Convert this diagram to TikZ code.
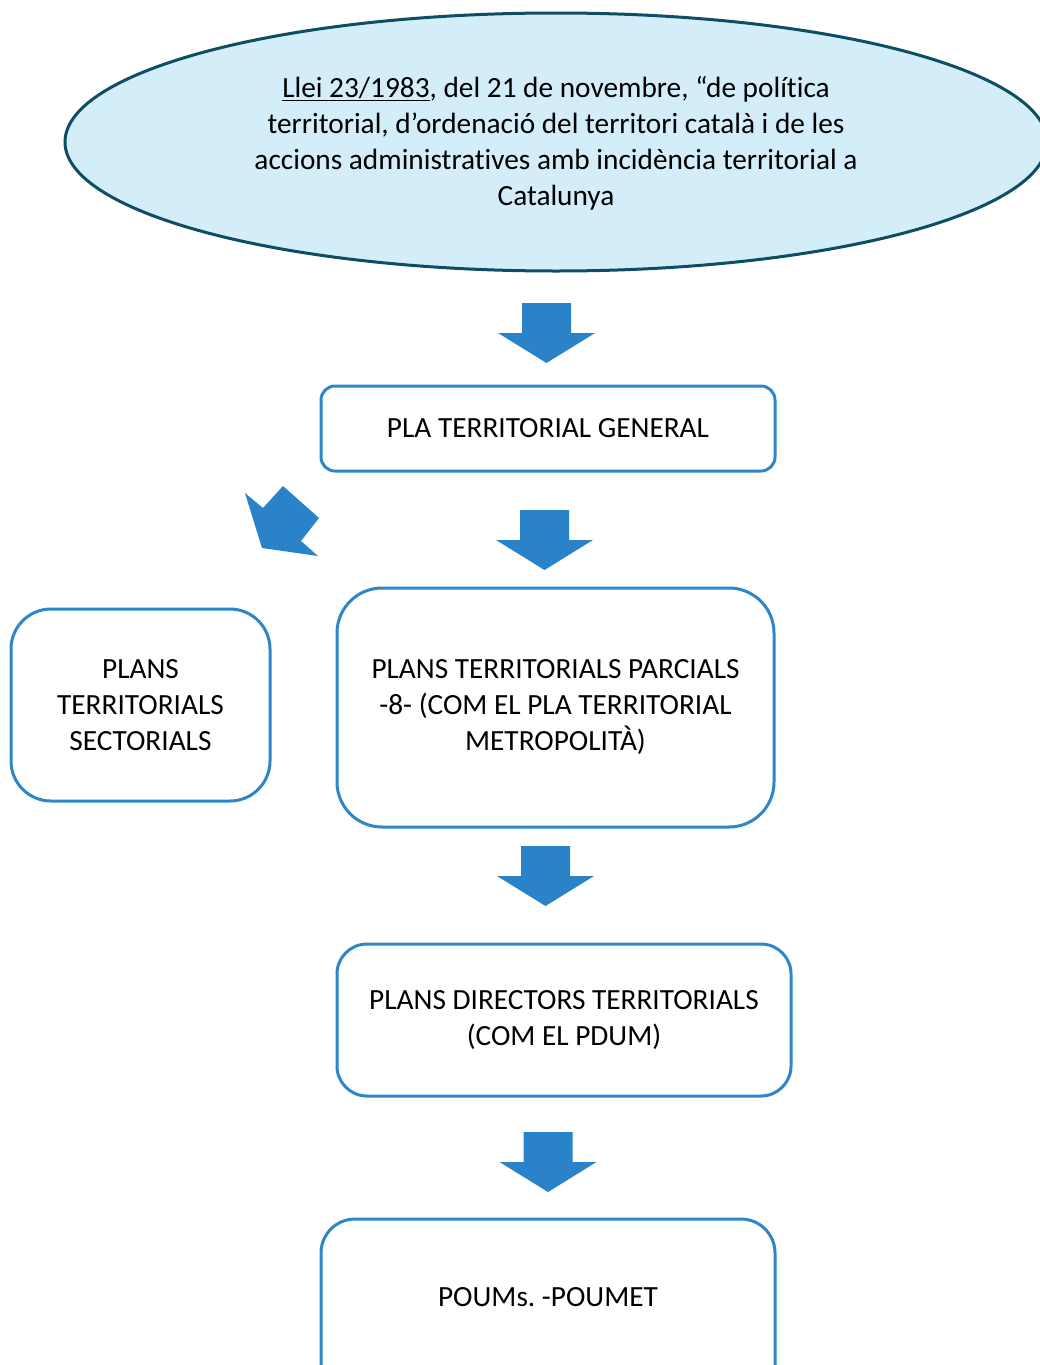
\documentclass[tikz,border=0pt]{standalone}
\usepackage{fontspec}
\setmainfont[Ligatures=NoCommon]{Carlito}
\definecolor{boxblue}{RGB}{46,134,200}
\definecolor{arrblue}{RGB}{42,131,200}
\definecolor{ellfill}{RGB}{212,238,249}
\definecolor{elldraw}{RGB}{14,77,100}
\tikzset{
  flowbox/.style={draw=boxblue, line width=3pt, fill=white, align=center, inner sep=0pt},
  downarr/.pic={\fill[arrblue] (-24.5,0) -- (24.5,0) -- (24.5,30) -- (48.5,30) -- (0,60) -- (-48.5,30) -- (-24.5,30) -- cycle;}
}
\begin{document}
\frenchspacing
\begin{tikzpicture}[x=1pt,y=-1pt, font=\fontsize{29.3}{36}\selectfont]
\useasboundingbox (0,0) rectangle (1040,1365);
\clip (0,0) rectangle (1040,1365);
% ellipse
\draw[fill=ellfill, draw=elldraw, line width=3pt] (556,142) ellipse [x radius=491, y radius=129];
\node[align=center, inner sep=0pt] (law) at (556,143) {\underline{Llei 23/1983}, del 21 de novembre, “de política\\territorial, d’ordenació del territori català i de les\\accions administratives amb incidència territorial a\\Catalunya};
% boxes
\node[flowbox, rounded corners=14pt, minimum width=454pt, minimum height=85pt] (ptg) at (548,428.5) {PLA TERRITORIAL GENERAL};
\node[flowbox, rounded corners=40pt, minimum width=259pt, minimum height=192pt] (pts) at (140.5,705) {PLANS\\TERRITORIALS\\SECTORIALS};
\node[flowbox, rounded corners=45pt, minimum width=437pt, minimum height=239pt] (ptp) at (555.5,707.5) {PLANS TERRITORIALS PARCIALS\\-8- (COM EL PLA TERRITORIAL\\METROPOLITÀ)};
\node[flowbox, rounded corners=30pt, minimum width=454pt, minimum height=152pt] (pdt) at (564,1020) {PLANS DIRECTORS TERRITORIALS\\(COM EL PDUM)};
\node[flowbox, rounded corners=34pt, minimum width=454pt, minimum height=200pt] (poum) at (548,1319) {};
\node (poumtxt) at (548,1297) {POUMs. -POUMET};
% arrows
\pic at (546.5,303) {downarr};
\pic at (544.5,510) {downarr};
\pic at (545.5,846) {downarr};
\pic at (548,1132) {downarr};
\fill[arrblue] (245,493) -- (263,508) -- (283,486) -- (319,518) -- (301,541) -- (318,556) -- (262,548) -- cycle;
\end{tikzpicture}
\end{document}
